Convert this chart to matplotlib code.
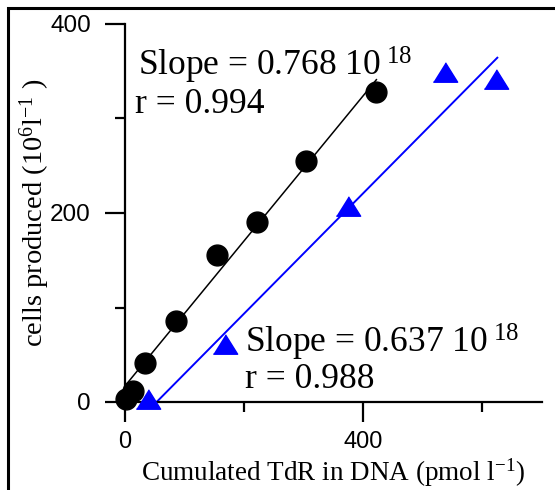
import matplotlib
matplotlib.use("Agg")
import matplotlib.pyplot as plt
from matplotlib.patches import Rectangle
from matplotlib.ticker import FixedLocator
import numpy as np

plt.rcParams['mathtext.fontset'] = 'custom'
plt.rcParams['mathtext.rm'] = 'Liberation Serif'
plt.rcParams['mathtext.it'] = 'Liberation Serif:italic'

# black circles: cumulated TdR vs cells produced
circ_x = [2, 13, 34, 86, 154, 222, 304, 422]
circ_y = [3, 12, 41, 86, 156, 191, 255, 328]
# blue triangles
tri_x = [38, 168, 375, 537, 623]
tri_y = [3, 61, 207, 349, 342]

# regression lines (slope, intercept, x range)
black_fit = (0.768, 17.0, [0, 422])
blue_fit = (0.637, -33.8, [53, 625])

slope_texts = ["Slope = 0.768 10$^{\\ 18}$", "Slope = 0.637 10$^{\\ 18}$"]
r_texts = ["r = 0.994", "r = 0.988"]

W, H = 555, 490
fig = plt.figure(figsize=(W / 100, H / 100), dpi=100)
ax = fig.add_axes([125 / W, 1 - 402 / H, 417 / W, 378 / H])

# outer frame (runs off the right and bottom of the picture)
fig.patches.append(Rectangle((8 / W, -0.2), 1.5, 1.2 - 8 / H, transform=fig.transFigure,
                             fill=False, edgecolor='black', linewidth=2.2, clip_on=False))

for (m, b, xr), col, lw in [(black_fit, 'black', 1.1), (blue_fit, 'blue', 1.4)]:
    xs = np.array(xr, dtype=float)
    ax.plot(xs, m * xs + b, color=col, lw=lw, clip_on=False, zorder=2)

ax.plot(circ_x, circ_y, 'o', color='black', markersize=15, clip_on=False, zorder=3)
tri = [(-1, -0.8), (1, -0.8), (0, 0.8)]
ax.plot(tri_x, tri_y, marker=tri, linestyle='none', color='blue', markersize=17.5,
        clip_on=False, zorder=3)

serif = 'Liberation Serif'
ax.text(22, 345, slope_texts[0], family=serif, fontsize=25.5, va='baseline')
ax.text(17, 306, r_texts[0], family=serif, fontsize=25.5, va='baseline')
ax.text(202, 52, slope_texts[1], family=serif, fontsize=25.5, va='baseline')
ax.text(202, 15, r_texts[1], family=serif, fontsize=25.5, va='baseline')

ax.set_xlim(0, 700)
ax.set_ylim(0, 400)
for s in ['top', 'right']:
    ax.spines[s].set_visible(False)
for s in ['left', 'bottom']:
    ax.spines[s].set_linewidth(1.6)

ax.xaxis.set_major_locator(FixedLocator([0, 400]))
ax.xaxis.set_minor_locator(FixedLocator([200, 600]))
ax.yaxis.set_major_locator(FixedLocator([0, 200, 400]))
ax.yaxis.set_minor_locator(FixedLocator([100, 300]))
ax.tick_params(which='major', length=14.5, width=1.6, labelsize=17.5)
ax.tick_params(axis='x', which='major', pad=6.5, labelsize=17)
ax.tick_params(axis='y', which='major', pad=10)
ax.tick_params(which='minor', length=7.5, width=1.6)
for lab in ax.get_xticklabels() + ax.get_yticklabels():
    lab.set_family('Liberation Sans')

ax.set_xlabel("Cumulated TdR in DNA (pmol l$^{-1}$)", family=serif, fontsize=19.5)
ax.set_ylabel("cells produced (10$^{6}$l$^{-1}$ )", family=serif, fontsize=20.5)
ax.xaxis.set_label_coords(0.5, -0.145)
ax.yaxis.set_label_coords(-0.175, 0.5)

fig.savefig("out.png", dpi=100)
